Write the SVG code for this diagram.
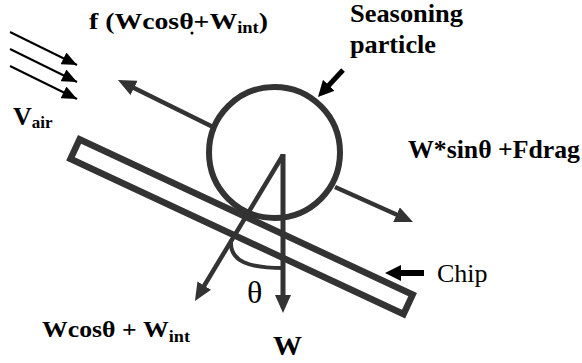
<svg xmlns="http://www.w3.org/2000/svg" width="582" height="363" viewBox="0 0 582 363">
<style>
.g{fill:none;stroke:#333333;stroke-linecap:butt}
.k{fill:none;stroke:#000000}
.lbl{font-family:'Liberation Serif','Times New Roman',Times,serif;fill:#000}
.heavy{font-family:'Liberation Serif','Times New Roman',Times,serif;fill:#000;font-weight:bold}
</style>
<defs>
<marker id="ag" markerUnits="userSpaceOnUse" viewBox="0 0 18 16" markerWidth="18" markerHeight="16" refX="4" refY="8" orient="auto"><path d="M0,0 L18,8 L0,16 z" fill="#333333"/></marker>
<marker id="ak" markerUnits="userSpaceOnUse" viewBox="0 0 16 16" markerWidth="16" markerHeight="16" refX="3" refY="8" orient="auto"><path d="M0,0 L16,8 L0,16 z" fill="#000"/></marker>
<marker id="aa" markerUnits="userSpaceOnUse" viewBox="0 0 15 13" markerWidth="15" markerHeight="13" refX="15" refY="6.5" orient="auto"><path d="M0,0 L15,6.5 L0,13 z" fill="#000"/></marker>
</defs>
<g id="particle"><circle class="g" cx="274.5" cy="152.5" r="65.5" stroke-width="6"/></g>
<g id="chip"><rect class="g" transform="translate(78,135) rotate(25)" x="3.25" y="3.25" width="367.5" height="21.5" stroke-width="6.5"/></g>
<g id="connectors">
<line class="g" x1="213" y1="127" x2="130.5" y2="86.2" stroke-width="4.5" marker-end="url(#ag)"/>
<line class="g" x1="335" y1="187" x2="400.2" y2="216.3" stroke-width="4.5" marker-end="url(#ag)"/>
<line class="g" x1="283" y1="154" x2="283" y2="299" stroke-width="5" marker-end="url(#ag)"/>
<line class="g" x1="283" y1="155" x2="202.2" y2="289" stroke-width="4.5" marker-end="url(#ag)"/>
<path class="g" d="M231,240 C229,262 250,268 283,268" stroke-width="4"/>
<line class="k" x1="10" y1="32" x2="77" y2="65" stroke-width="2" marker-end="url(#aa)"/>
<line class="k" x1="10" y1="49" x2="77" y2="82" stroke-width="2" marker-end="url(#aa)"/>
<line class="k" x1="10" y1="66" x2="77" y2="99" stroke-width="2" marker-end="url(#aa)"/>
<line class="k" x1="343" y1="70" x2="326.8" y2="87.5" stroke-width="5" marker-end="url(#ak)"/>
<line class="k" x1="424" y1="273" x2="398" y2="273" stroke-width="6" marker-end="url(#ak)"/>
</g>
<g id="labels">
<text class="heavy" x="89" y="29" font-size="24" textLength="179" lengthAdjust="spacingAndGlyphs">f (Wcosθ+W<tspan font-size="16" dy="4">int</tspan><tspan dy="-4">)</tspan></text>
<circle cx="192" cy="33" r="1.5" fill="#000"/>
<text class="heavy" x="13" y="125" font-size="26">V<tspan font-size="17" dy="3">air</tspan></text>
<text class="heavy" x="350" y="22" font-size="26" textLength="113" lengthAdjust="spacingAndGlyphs">Seasoning</text>
<text class="heavy" x="350" y="53" font-size="26" textLength="86" lengthAdjust="spacingAndGlyphs">particle</text>
<text class="heavy" x="408" y="158" font-size="25" textLength="172" lengthAdjust="spacingAndGlyphs">W*sinθ +Fdrag</text>
<text class="lbl" x="437" y="282" font-size="26">Chip</text>
<text class="lbl" x="247" y="303" font-size="32">θ</text>
<text class="heavy" x="42" y="337" font-size="24" textLength="148" lengthAdjust="spacingAndGlyphs">Wcosθ + W<tspan font-size="17" dy="5">int</tspan></text>
<text class="heavy" x="273" y="355" font-size="28" textLength="29" lengthAdjust="spacingAndGlyphs">W</text>
</g>
</svg>
